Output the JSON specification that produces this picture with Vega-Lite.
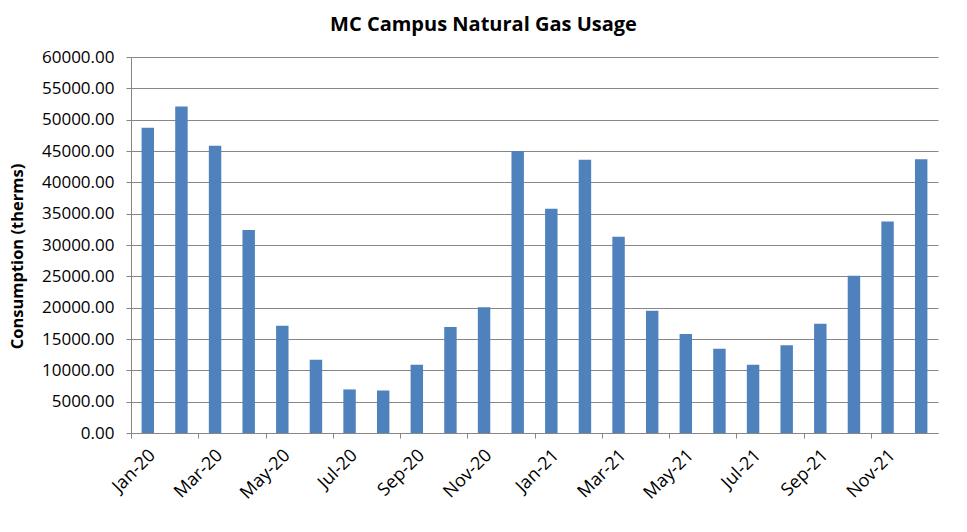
{
  "$schema": "https://vega.github.io/schema/vega-lite/v6.json",
  "description": "Monthly natural gas consumption on the MC campus, Jan 2020 to Dec 2021.",
  "autosize": {"type": "none"},
  "width": 807,
  "height": 376,
  "padding": {"left": 131, "top": 57, "right": 29, "bottom": 99},
  "background": "white",
  "title": {
    "text": "MC Campus Natural Gas Usage",
    "font": "Open Sans",
    "fontSize": 20,
    "fontWeight": "bold",
    "color": "#000000",
    "anchor": "middle",
    "dx": -51,
    "offset": 13
  },
  "data": {
    "values": [
      {"month": "Jan-20", "therms": 48700},
      {"month": "Feb-20", "therms": 52100},
      {"month": "Mar-20", "therms": 45850},
      {"month": "Apr-20", "therms": 32400},
      {"month": "May-20", "therms": 17100},
      {"month": "Jun-20", "therms": 11700},
      {"month": "Jul-20", "therms": 6950},
      {"month": "Aug-20", "therms": 6800},
      {"month": "Sep-20", "therms": 10900},
      {"month": "Oct-20", "therms": 16900},
      {"month": "Nov-20", "therms": 20050},
      {"month": "Dec-20", "therms": 45000},
      {"month": "Jan-21", "therms": 35800},
      {"month": "Feb-21", "therms": 43600},
      {"month": "Mar-21", "therms": 31300},
      {"month": "Apr-21", "therms": 19500},
      {"month": "May-21", "therms": 15800},
      {"month": "Jun-21", "therms": 13450},
      {"month": "Jul-21", "therms": 10900},
      {"month": "Aug-21", "therms": 14000},
      {"month": "Sep-21", "therms": 17450},
      {"month": "Oct-21", "therms": 25100},
      {"month": "Nov-21", "therms": 33750},
      {"month": "Dec-21", "therms": 43700}
    ]
  },
  "mark": {"type": "bar", "color": "#4F81BD"},
  "encoding": {
    "x": {
      "field": "month",
      "type": "ordinal",
      "sort": null,
      "scale": {"paddingInner": 0.63, "paddingOuter": 0.315},
      "axis": {
        "title": null,
        "values": ["Jan-20", "Mar-20", "May-20", "Jul-20", "Sep-20", "Nov-20", "Jan-21", "Mar-21", "May-21", "Jul-21", "Sep-21", "Nov-21"],
        "tickOffset": -16.8,
        "labelOffset": 15,
        "labelAngle": -45,
        "labelFont": "Open Sans",
        "labelFontSize": 18,
        "labelColor": "#000000",
        "labelPadding": 8,
        "tickSize": 5,
        "tickColor": "#868686",
        "domainColor": "#868686",
        "grid": false
      }
    },
    "y": {
      "field": "therms",
      "type": "quantitative",
      "scale": {"domain": [0, 60000], "nice": false},
      "axis": {
        "title": "Consumption (therms)",
        "titleFont": "Open Sans",
        "titleFontSize": 16.5,
        "titleFontWeight": "bold",
        "titleColor": "#000000",
        "titlePadding": 16,
        "titleY": 199,
        "values": [0, 5000, 10000, 15000, 20000, 25000, 30000, 35000, 40000, 45000, 50000, 55000, 60000],
        "format": ".2f",
        "labelFont": "Open Sans",
        "labelFontSize": 17,
        "labelColor": "#000000",
        "labelPadding": 12,
        "tickSize": 5,
        "tickColor": "#868686",
        "domainColor": "#868686",
        "grid": true,
        "gridColor": "#868686",
        "gridOpacity": 1
      }
    }
  },
  "config": {"view": {"stroke": null}}
}
